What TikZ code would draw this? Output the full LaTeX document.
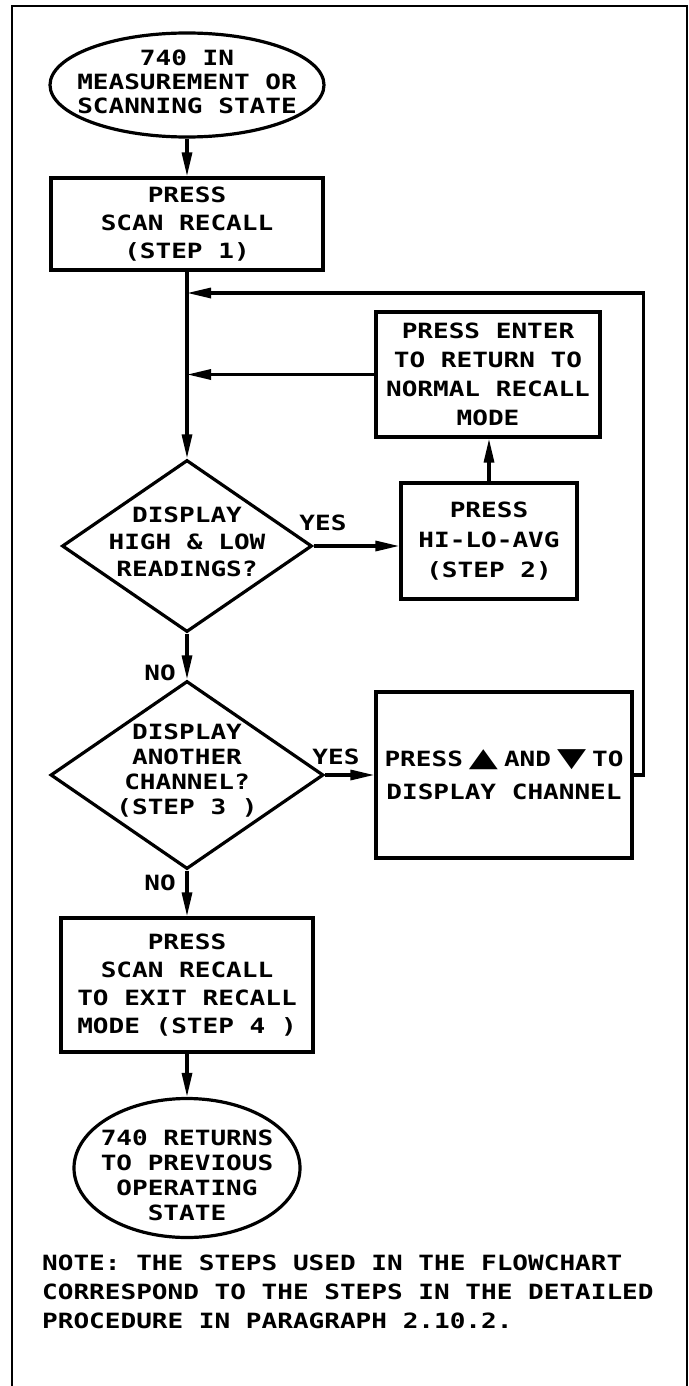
\documentclass[tikz,border=0pt]{standalone}
\usepackage{fontspec}
\usepackage{graphicx}
\usetikzlibrary{shapes.geometric,arrows.meta}
\newfontfamily\cadfont[FakeStretch=1.24]{DejaVu Sans Mono}
\newfontfamily\symfont{DejaVu Sans}
\newcommand{\upmark}{\scalebox{1.8}[1.25]{\symfont ▲}}
\newcommand{\downmark}{\scalebox{1.8}[1.25]{\symfont ▼}}
\tikzset{
  fs/.style={font=\cadfont\bfseries\fontsize{21}{#1}\selectfont},
  stepbox/.style={draw, rectangle, line width=3.2pt},
  oval/.style={draw, ellipse, line width=3.2pt},
  choice/.style={draw, diamond, line width=3.2pt},
  flow/.style={line width=3.2pt, -{Triangle[length=24pt,width=10pt]}},
  framestyle/.style={line width=1.3pt},
}
\begin{document}
\begin{tikzpicture}[x=1pt,y=-1pt,
  every node/.style={align=center, inner sep=0pt, fs=28}]
\useasboundingbox (0,0) rectangle (688,1386);
% frame
\draw[framestyle] (12,1386) -- (12,6) -- (687,6) -- (687,1386);

% shapes
\node[oval, minimum width=274pt, minimum height=104pt] (start) at (187,85) {};
\node[fs=24] (startt) at (187,82) {740 IN\\MEASUREMENT OR\\SCANNING STATE};

\node[stepbox, minimum width=272pt, minimum height=92pt, fs=28] (s1) at (187,224)
  {PRESS\\SCAN RECALL\\(STEP 1)};

\node[stepbox, minimum width=224pt, minimum height=125pt, fs=29] (enter) at (488,374.5)
  {PRESS ENTER\\TO RETURN TO\\NORMAL RECALL\\MODE};

\node[choice, minimum width=250pt, minimum height=172pt] (d1) at (187,546) {};
\node[fs=27] (d1t) at (187,542) {DISPLAY\\HIGH \& LOW\\READINGS?};

\node[stepbox, minimum width=176pt, minimum height=116pt, fs=30] (hilo) at (489,541)
  {PRESS\\HI-LO-AVG\\(STEP 2)};

\node[choice, minimum width=273pt, minimum height=188pt] (d2) at (187,775) {};
\node[fs=25] (d2t) at (187,771) {DISPLAY\\ANOTHER\\CHANNEL?\\(STEP 3 )};

\node[stepbox, minimum width=256pt, minimum height=166pt, fs=33] (chan) at (504,775)
  {PRESS\hspace{6pt}\upmark\hspace{6pt}AND\hspace{6pt}\downmark\hspace{6pt}TO\\DISPLAY CHANNEL};

\node[stepbox, minimum width=252pt, minimum height=134pt, fs=28] (s4) at (187,985)
  {PRESS\\SCAN RECALL\\TO EXIT RECALL\\MODE (STEP 4 )};

\node[oval, minimum width=226pt, minimum height=139pt] (end) at (187,1168) {};
\node[fs=25] (endt) at (187,1175) {740 RETURNS\\TO PREVIOUS\\OPERATING\\STATE};

\node[anchor=north west, align=left, fs=29] (note) at (42,1255)
  {NOTE: THE STEPS USED IN THE FLOWCHART\\CORRESPOND TO THE STEPS IN THE DETAILED\\PROCEDURE IN PARAGRAPH 2.10.2.};

% labels
\node (yes1) at (323,523) {YES};
\node (yes2) at (336,757) {YES};
\node (no1) at (160,673) {NO};
\node (no2) at (160,883) {NO};

% junction on main line
\coordinate (j1) at (187,293);

% connectors
\draw[flow] (start.south) -- (s1.north);
\draw[flow] (s1.south) -- (d1.north);
\draw[flow] (enter.west) -- (enter.west -| s1.south);
\draw[flow] (chan.east) -- ++(10,0) |- (j1);
\draw[flow] (d1.east) -- (d1.east -| hilo.west);
\draw[flow] (hilo.north) -- (hilo.north |- enter.south);
\draw[flow] (d1.south) -- (d2.north);
\draw[flow] (d2.east) -- (d2.east -| chan.west);
\draw[flow] (d2.south) -- (s4.north);
\draw[flow] (s4.south) -- (end.north);
\end{tikzpicture}
\end{document}
